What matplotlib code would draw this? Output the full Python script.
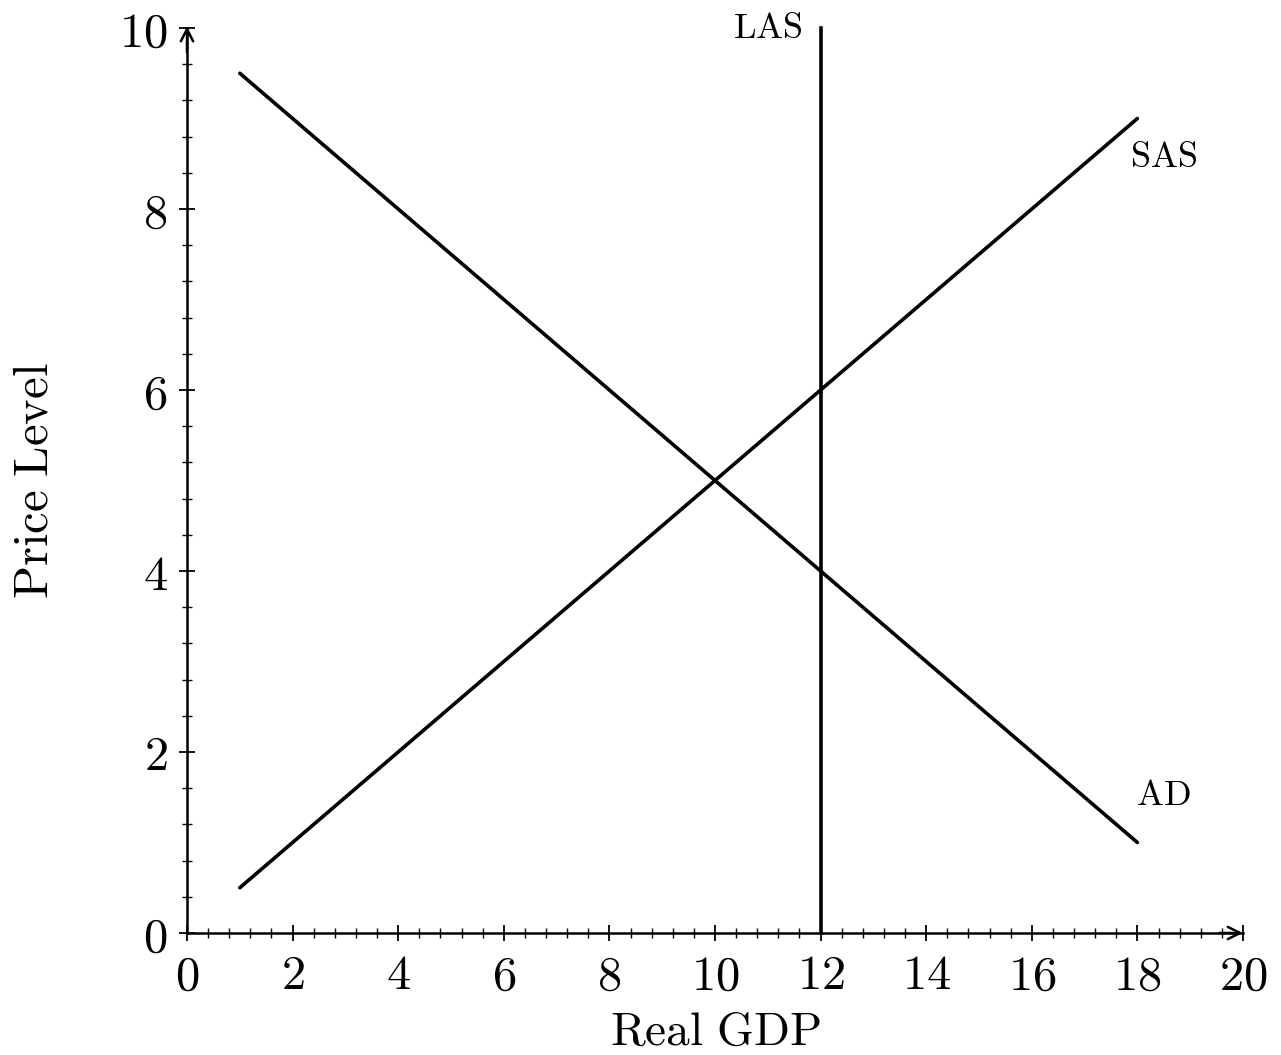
import matplotlib
matplotlib.use("Agg")
import matplotlib.pyplot as plt
from matplotlib.ticker import MultipleLocator, FuncFormatter

plt.rcParams['mathtext.fontset'] = 'cm'
plt.rcParams['font.family'] = 'DejaVu Serif'

# Data
ad_x = [1, 18]
ad_y = [9.5, 1]
sas_x = [1, 18]
sas_y = [0.5, 9]
las_x = [12, 12]
las_y = [0, 10]
curve_labels = ["LAS", "SAS", "AD"]
label_pos = [(11.0, 10.0), (18.5, 8.57), (18.5, 1.52)]

fig = plt.figure(figsize=(12.81, 10.55), dpi=100)
ax = fig.add_axes([187/1281, 1-933/1055, (1243-187)/1281, (933-28)/1055])

lw = 2.6
ax.plot(ad_x, ad_y, color='black', lw=lw, solid_capstyle='round')
ax.plot(sas_x, sas_y, color='black', lw=lw, solid_capstyle='round')
ax.plot(las_x, las_y, color='black', lw=lw, clip_on=False)

for t, (x, y) in zip(curve_labels, label_pos):
    ax.text(x, y, r'$\mathrm{%s}$' % t, fontsize=26, ha='center', va='center')

ax.set_xlim(0, 20)
ax.set_ylim(0, 10)
for s in ['top', 'right']:
    ax.spines[s].set_visible(False)
for s in ['left', 'bottom']:
    ax.spines[s].set_linewidth(1.8)

ax.xaxis.set_major_locator(MultipleLocator(2))
ax.xaxis.set_minor_locator(MultipleLocator(0.4))
ax.yaxis.set_major_locator(MultipleLocator(2))
ax.yaxis.set_minor_locator(MultipleLocator(0.4))
fmt = FuncFormatter(lambda v, p: r'$%d$' % round(v))
ax.xaxis.set_major_formatter(fmt)
ax.yaxis.set_major_formatter(fmt)
ax.tick_params(which='major', direction='inout', length=12, width=1.3, labelsize=35, pad=8)
ax.tick_params(which='minor', direction='inout', length=7, width=1.0)

ax.annotate('', xy=(20.05, 0), xytext=(19.5, 0),
            arrowprops=dict(arrowstyle='->', lw=1.8, color='black', mutation_scale=22),
            annotation_clip=False)
ax.annotate('', xy=(0, 10.05), xytext=(0, 9.7),
            arrowprops=dict(arrowstyle='->', lw=1.8, color='black', mutation_scale=22),
            annotation_clip=False)

ax.set_xlabel(r'$\mathrm{Real\ GDP}$', fontsize=34, labelpad=7)
ax.set_ylabel(r'$\mathrm{Price\ Level}$', fontsize=35, labelpad=44)

fig.savefig('out.png', dpi=100)
